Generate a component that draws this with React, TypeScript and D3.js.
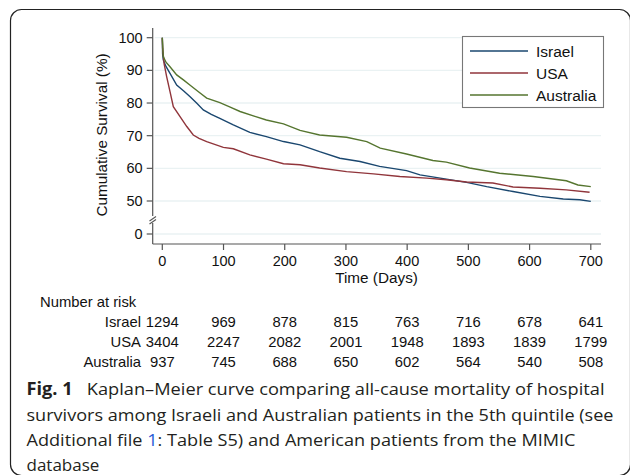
import React from "react";
import * as d3 from "d3";

const series = ["Israel", "USA", "Australia"];
const colors = ["#1a476f", "#90353b", "#55752f"];

const israelDays = [0, 0.5, 1.6, 6, 12.6, 23.5, 35, 45, 56, 67, 80, 94, 116, 143, 170, 198, 225, 257, 290, 323, 355, 399, 421, 454, 497, 530, 573, 617, 655, 682, 700];
const israelSurv = [100, 95, 93.2, 91.2, 89.1, 85.5, 83.7, 82, 80, 77.9, 76.5, 75.3, 73.3, 71, 69.7, 68.2, 67.2, 65.1, 63.1, 62.1, 60.6, 59.3, 58, 57, 55.7, 54.4, 52.9, 51.4, 50.6, 50.4, 49.5];

const usaDays = [0, 0.5, 3, 7.1, 12.6, 18, 29, 40, 50.6, 60, 72.5, 99.7, 116, 143, 170, 198, 225, 257, 301, 345, 388, 432, 464, 497, 540, 573, 617, 660, 698];
const usaSurv = [100, 96.8, 92, 88.1, 83.5, 78.9, 75.8, 72.8, 70.2, 69.2, 68.2, 66.4, 66, 64.1, 62.8, 61.4, 61.1, 60.1, 59, 58.3, 57.5, 57, 56.5, 55.8, 55.5, 54.3, 53.9, 53.4, 52.7];

const ausDays = [0, 1.6, 6, 12.6, 23.5, 35, 45, 58, 72.5, 94, 110, 127, 150, 170, 198, 225, 257, 301, 334, 356, 399, 442, 464, 502, 551, 606, 660, 679, 700];
const ausSurv = [100, 94.2, 92.5, 91.1, 88.6, 87, 85.5, 83.6, 81.5, 80.1, 78.8, 77.4, 76, 74.8, 73.6, 71.6, 70.2, 69.5, 68.2, 66.2, 64.4, 62.4, 61.9, 60.1, 58.5, 57.5, 56.2, 54.9, 54.4];

const xTicks = [0, 100, 200, 300, 400, 500, 600, 700];
const yTicks = [0, 50, 60, 70, 80, 90, 100];

const riskIsrael = [1294, 969, 878, 815, 763, 716, 678, 641];
const riskUSA = [3404, 2247, 2082, 2001, 1948, 1893, 1839, 1799];
const riskAustralia = [937, 745, 688, 650, 602, 564, 540, 508];

const captionLines = [
  "survivors among Israeli and Australian patients in the 5th quintile (see",
  "and American patients from the MIMIC",
  "database",
];

export default function App() {
  const W = 630, H = 475;
  const x = d3.scaleLinear().domain([0, 700]).range([162.3, 590.8]);
  const y = d3.scaleLinear().domain([0, 50, 100]).range([234, 201, 37.7]);
  const axisX = 152.7;
  const axisY = 244;
  const font = "'Liberation Sans', Arial, sans-serif";
  const capFont = "'Open Sans', 'Noto Sans', sans-serif";

  const allData = [
    israelDays.map((d, i) => [d, israelSurv[i]]),
    usaDays.map((d, i) => [d, usaSurv[i]]),
    ausDays.map((d, i) => [d, ausSurv[i]]),
  ];
  const line = d3.line<number[]>().x((p) => x(p[0])).y((p) => y(p[1]));
  const risks = [riskIsrael, riskUSA, riskAustralia];
  const rowY = [327, 347, 367];

  return (
    <svg width={W} height={H} style={{ position: "absolute", left: 0, top: 0, background: "#fff" }}>
      <rect x={10.5} y={9.5} width={620} height={466} rx={11} fill="none" stroke="#222" strokeWidth={1.2} />
      {/* gridlines */}
      {yTicks.map((t) => (
        <line key={"g" + t} x1={axisX + 2} x2={601} y1={y(t)} y2={y(t)} stroke="#eaf2f3" strokeWidth={1.3} />
      ))}
      {/* curves */}
      {allData.map((d, i) => (
        <path key={series[i]} d={line(d) || ""} fill="none" stroke={colors[i]} strokeWidth={1.4} />
      ))}
      {/* y axis with break */}
      <line x1={axisX} x2={axisX} y1={28} y2={216} stroke="#555" strokeWidth={1.2} />
      <line x1={axisX} x2={axisX} y1={223} y2={axisY} stroke="#555" strokeWidth={1.2} />
      <line x1={149.5} x2={156} y1={221} y2={216.5} stroke="#555" strokeWidth={1.1} />
      <line x1={149.5} x2={156} y1={224} y2={219.5} stroke="#555" strokeWidth={1.1} />
      {yTicks.map((t) => (
        <g key={"y" + t}>
          <line x1={axisX - 6} x2={axisX} y1={y(t)} y2={y(t)} stroke="#555" strokeWidth={1.2} />
          <text x={axisX - 10} y={y(t) + 5} textAnchor="end" fontFamily={font} fontSize={14.5} fill="#111">{t}</text>
        </g>
      ))}
      <text transform={`translate(107,135) rotate(-90)`} textAnchor="middle" fontFamily={font} fontSize={15.3} fill="#111">Cumulative Survival (%)</text>
      {/* x axis */}
      <line x1={axisX} x2={601} y1={axisY} y2={axisY} stroke="#555" strokeWidth={1.2} />
      {xTicks.map((t) => (
        <g key={"x" + t}>
          <line x1={x(t)} x2={x(t)} y1={axisY} y2={axisY + 6} stroke="#555" strokeWidth={1.2} />
          <text x={x(t)} y={axisY + 22} textAnchor="middle" fontFamily={font} fontSize={14.5} fill="#111">{t}</text>
        </g>
      ))}
      <text x={(x(0) + x(700)) / 2} y={283} textAnchor="middle" fontFamily={font} fontSize={15.3} fill="#111">Time (Days)</text>
      {/* legend */}
      <rect x={462.5} y={36.5} width={141} height={71} fill="#fff" stroke="#777" strokeWidth={1.1} />
      {series.map((s, i) => (
        <g key={"l" + s}>
          <line x1={470} x2={528} y1={51 + i * 22} y2={51 + i * 22} stroke={colors[i]} strokeWidth={1.4} />
          <text x={536} y={51 + i * 22 + 5.5} fontFamily={font} fontSize={15.5} fill="#111">{s}</text>
        </g>
      ))}
      {/* risk table */}
      <text x={40} y={307} fontFamily={font} fontSize={14.8} fill="#111">Number at risk</text>
      {series.map((s, i) => (
        <g key={"r" + s}>
          <text x={141} y={rowY[i]} textAnchor="end" fontFamily={font} fontSize={14.8} fill="#111">{s}</text>
          {risks[i].map((v, j) => (
            <text key={j} x={x(xTicks[j])} y={rowY[i]} textAnchor="middle" fontFamily={font} fontSize={14.8} fill="#111">{v}</text>
          ))}
        </g>
      ))}
      {/* caption */}
      <text x={26.5} y={395} fontFamily={capFont} fontSize={17} fill="#231f20" textLength={578} lengthAdjust="spacingAndGlyphs">
        <tspan fontWeight="bold">Fig. 1</tspan>
        <tspan>{"\u00a0\u00a0\u00a0Kaplan–Meier curve comparing all-cause mortality of hospital"}</tspan>
      </text>
      <text x={26.5} y={420.5} fontFamily={capFont} fontSize={17} fill="#231f20" textLength={587} lengthAdjust="spacingAndGlyphs">{captionLines[0]}</text>
      <text x={26.5} y={446} fontFamily={capFont} fontSize={17} fill="#231f20" textLength={549} lengthAdjust="spacingAndGlyphs">
        <tspan>{"Additional file "}</tspan>
        <tspan fill="#2a5cd6">1</tspan>
        <tspan>{": Table S5) "}</tspan>
        <tspan>{captionLines[1]}</tspan>
      </text>
      <text x={26.5} y={470.5} fontFamily={capFont} fontSize={17} fill="#231f20">{captionLines[2]}</text>
    </svg>
  );
}
